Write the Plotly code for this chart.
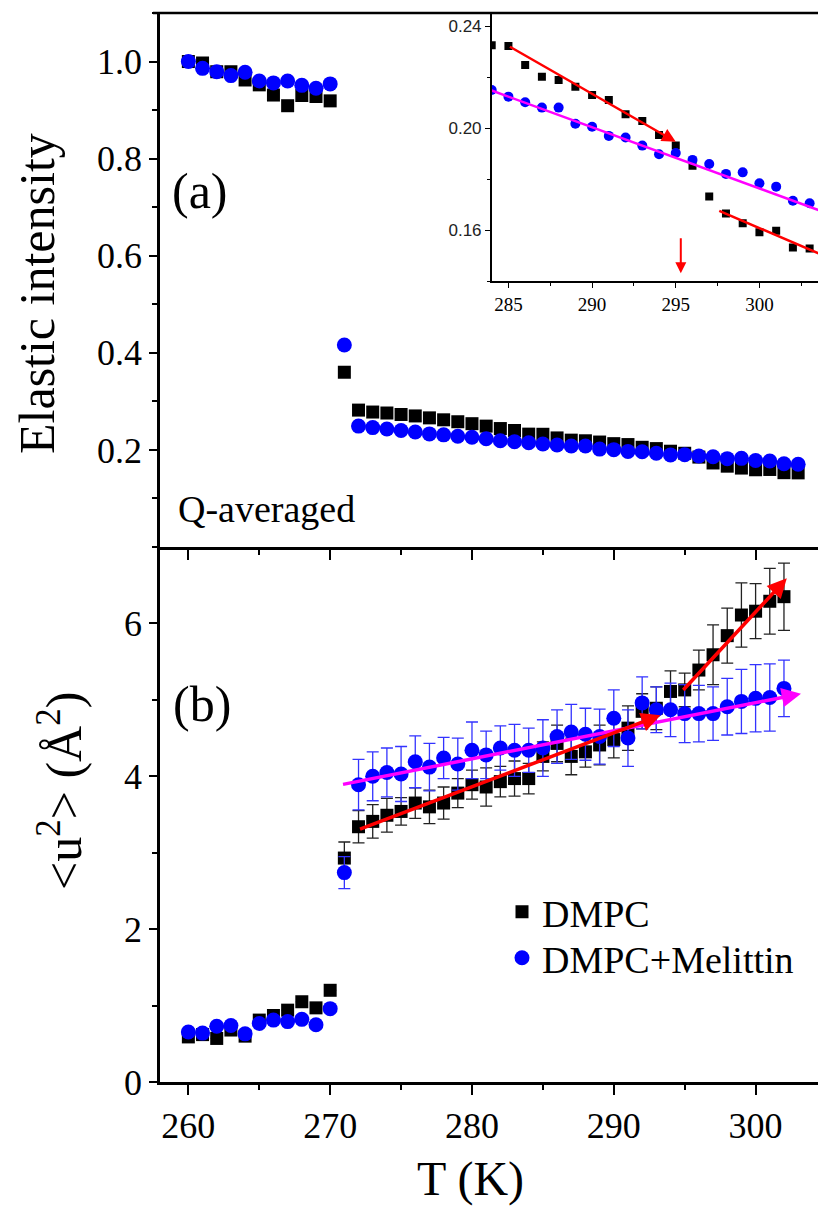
import plotly.graph_objects as go

# ---------------- data ----------------
temps_elastic = [260, 261, 262, 263, 264, 265, 266, 267, 268, 269, 270, 271,
                 272, 273, 274, 275, 276, 277, 278, 279, 280, 281, 282, 283,
                 284, 285, 286, 287, 288, 289, 290, 291, 292, 293, 294, 295,
                 296, 297, 298, 299, 300, 301, 302, 303]
elastic_dmpc = [1.000, 0.997, 0.979, 0.979, 0.962, 0.952, 0.931, 0.909, 0.930, 0.928, 0.919, 0.360,
                0.282, 0.278, 0.276, 0.273, 0.270, 0.266, 0.262, 0.258, 0.254, 0.249, 0.244, 0.240,
                0.2325, 0.2322, 0.2247, 0.2201, 0.2188, 0.2162, 0.2129, 0.2110, 0.2054, 0.2027, 0.1973, 0.1931,
                0.1852, 0.1731, 0.1665, 0.1626, 0.1591, 0.1597, 0.1531, 0.1527]
elastic_mel = [1.000, 0.986, 0.979, 0.971, 0.978, 0.960, 0.956, 0.960, 0.951, 0.945, 0.954, 0.416,
               0.249, 0.246, 0.243, 0.240, 0.237, 0.233, 0.231, 0.228, 0.226, 0.223, 0.219, 0.217,
               0.2149, 0.2123, 0.2101, 0.2080, 0.2080, 0.2017, 0.2005, 0.1969, 0.1963, 0.1931, 0.1897, 0.1902,
               0.1875, 0.1859, 0.1820, 0.1826, 0.1783, 0.1770, 0.1715, 0.1705]

temps_msd = [260, 261, 262, 263, 264, 265, 266, 267, 268, 269, 270, 271,
             272, 273, 274, 275, 276, 277, 278, 279, 280, 281, 282, 283,
             284, 285, 286, 287, 288, 289, 290, 291, 292, 293, 294, 295,
             296, 297, 298, 299, 300, 301, 302]
msd_dmpc = [0.59, 0.62, 0.57, 0.68, 0.60, 0.81, 0.87, 0.94, 1.05, 0.97, 1.20, 2.93,
            3.34, 3.41, 3.49, 3.54, 3.65, 3.60, 3.65, 3.78, 3.89, 3.86, 3.93, 3.97,
            3.97, 4.26, 4.43, 4.26, 4.32, 4.41, 4.48, 4.63, 4.85, 4.89, 5.11, 5.13,
            5.39, 5.59, 5.84, 6.11, 6.16, 6.29, 6.35]
msd_dmpc_err = [0, 0, 0, 0, 0, 0, 0, 0, 0, 0, 0, 0.21,
                0.21, 0.22, 0.22, 0.18, 0.20, 0.22, 0.21, 0.19, 0.19, 0.25, 0.20, 0.23,
                0.20, 0.19, 0.24, 0.24, 0.20, 0.26, 0.24, 0.29, 0.23, 0.28, 0.27, 0.22,
                0.26, 0.39, 0.36, 0.42, 0.36, 0.43, 0.44]
msd_mel = [0.655, 0.64, 0.73, 0.74, 0.63, 0.765, 0.81, 0.79, 0.82, 0.75, 0.96, 2.74,
           3.89, 4.00, 4.05, 4.03, 4.19, 4.12, 4.24, 4.16, 4.34, 4.28, 4.37, 4.34,
           4.34, 4.37, 4.52, 4.58, 4.55, 4.52, 4.76, 4.50, 4.96, 4.87, 4.87, 4.82,
           4.82, 4.82, 4.91, 4.98, 5.02, 5.03, 5.15]
msd_mel_err = [0, 0, 0, 0, 0, 0, 0, 0, 0, 0, 0, 0.21,
               0.33, 0.32, 0.32, 0.36, 0.34, 0.31, 0.27, 0.34, 0.37, 0.31, 0.29, 0.34,
               0.29, 0.37, 0.35, 0.36, 0.34, 0.36, 0.37, 0.37, 0.34, 0.30, 0.35, 0.38,
               0.37, 0.35, 0.37, 0.42, 0.44, 0.44, 0.37]

# guide lines / arrows (tail -> head)
msd_fit_dmpc_low_T = [272.0, 293.3]
msd_fit_dmpc_low_u2 = [3.30, 4.80]
msd_fit_dmpc_high_T = [294.8, 302.2]
msd_fit_dmpc_high_u2 = [5.11, 6.59]
msd_fit_mel_T = [270.8, 303.2]
msd_fit_mel_u2 = [3.89, 5.08]

inset_fit_dmpc_low_T = [285.0, 295.0]
inset_fit_dmpc_low_I = [0.2322, 0.1946]
inset_fit_dmpc_high_T = [297.6, 304.0]
inset_fit_dmpc_high_I = [0.1675, 0.1495]
inset_fit_mel_T = [284.0, 304.0]
inset_fit_mel_I = [0.2147, 0.1667]
inset_transition_T = [295.3, 295.3]
inset_transition_I = [0.1574, 0.1430]

x_ticks_main = [260, 270, 280, 290, 300]
y_ticks_top = [0.2, 0.4, 0.6, 0.8, 1.0]
y_ticks_bottom = [0, 2, 4, 6]
inset_x_ticks = [285, 290, 295, 300]
inset_y_ticks = [0.16, 0.20, 0.24]

# ---------------- style ----------------
SERIF = "Liberation Serif"
SANS = "Liberation Sans"
BLACK = "#000000"
BLUE = "#0000FF"
RED = "#FF0000"
MAGENTA = "#FF00FF"

fig = go.Figure()

# top panel
fig.add_trace(go.Scatter(x=temps_elastic, y=elastic_dmpc, mode="markers", name="DMPC",
                         marker=dict(symbol="square", size=13, color=BLACK),
                         xaxis="x", yaxis="y", showlegend=False))
fig.add_trace(go.Scatter(x=temps_elastic, y=elastic_mel, mode="markers", name="DMPC+Melittin",
                         marker=dict(symbol="circle", size=15, color=BLUE),
                         xaxis="x", yaxis="y", showlegend=False))

# bottom panel
fig.add_trace(go.Scatter(x=temps_msd, y=msd_dmpc, mode="markers", name="DMPC",
                         marker=dict(symbol="square", size=13, color=BLACK),
                         error_y=dict(type="data", array=msd_dmpc_err, color="#222222",
                                      thickness=1.3, width=6),
                         xaxis="x2", yaxis="y2", showlegend=True, legend="legend"))
fig.add_trace(go.Scatter(x=temps_msd, y=msd_mel, mode="markers", name="DMPC+Melittin",
                         marker=dict(symbol="circle", size=15, color=BLUE),
                         error_y=dict(type="data", array=msd_mel_err, color="#3333FF",
                                      thickness=1.3, width=6),
                         xaxis="x2", yaxis="y2", showlegend=True, legend="legend2"))

# inset
fig.add_trace(go.Scatter(x=temps_elastic, y=elastic_dmpc, mode="markers", name="DMPC",
                         marker=dict(symbol="square", size=8, color=BLACK),
                         xaxis="x3", yaxis="y3", showlegend=False))
fig.add_trace(go.Scatter(x=temps_elastic, y=elastic_mel, mode="markers", name="DMPC+Melittin",
                         marker=dict(symbol="circle", size=10, color=BLUE),
                         xaxis="x3", yaxis="y3", showlegend=False))
fig.add_trace(go.Scatter(x=inset_fit_mel_T, y=inset_fit_mel_I, mode="lines",
                         line=dict(color=MAGENTA, width=2.5), xaxis="x3", yaxis="y3",
                         showlegend=False, hoverinfo="skip"))
fig.add_trace(go.Scatter(x=inset_fit_dmpc_high_T, y=inset_fit_dmpc_high_I, mode="lines",
                         line=dict(color=RED, width=2.5), xaxis="x3", yaxis="y3",
                         showlegend=False, hoverinfo="skip"))

annotations = []

def arrow(xs, ys, xref, yref, color, width, size):
    return dict(x=xs[1], y=ys[1], ax=xs[0], ay=ys[0], xref=xref, yref=yref,
                axref=xref, ayref=yref, text="", showarrow=True, arrowhead=2,
                arrowsize=size, arrowwidth=width, arrowcolor=color)

annotations.append(arrow(msd_fit_mel_T, msd_fit_mel_u2, "x2", "y2", MAGENTA, 3.5, 1.1))
annotations.append(arrow(msd_fit_dmpc_low_T, msd_fit_dmpc_low_u2, "x2", "y2", RED, 3.5, 1.1))
annotations.append(arrow(msd_fit_dmpc_high_T, msd_fit_dmpc_high_u2, "x2", "y2", RED, 3.5, 1.1))
annotations.append(arrow(inset_fit_dmpc_low_T, inset_fit_dmpc_low_I, "x3", "y3", RED, 2.5, 1.1))
annotations.append(arrow(inset_transition_T, inset_transition_I, "x3", "y3", RED, 2, 1.1))


def ptx(px):
    return (px - 160) / 658.0


def pty(py):
    return (1082 - py) / 1069.0

annotations += [
    dict(text="(a)", x=ptx(200), y=pty(191), xref="paper", yref="paper",
         showarrow=False, xanchor="center", yanchor="middle",
         font=dict(family=SERIF, size=50, color=BLACK)),
    dict(text="(b)", x=ptx(202), y=pty(704), xref="paper", yref="paper",
         showarrow=False, xanchor="center", yanchor="middle",
         font=dict(family=SERIF, size=50, color=BLACK)),
    dict(text="Q-averaged", x=ptx(176), y=pty(509), xref="paper", yref="paper",
         showarrow=False, xanchor="left", yanchor="middle",
         font=dict(family=SERIF, size=38, color=BLACK)),
    dict(text="Elastic intensity", x=ptx(37), y=pty(293), xref="paper", yref="paper",
         showarrow=False, xanchor="center", yanchor="middle", textangle=-90,
         font=dict(family=SERIF, size=50, color=BLACK)),
    dict(text="&lt;u<sup>2</sup>&gt; (Å<sup>2</sup>)", x=ptx(60), y=pty(791),
         xref="paper", yref="paper",
         showarrow=False, xanchor="center", yanchor="middle", textangle=-90,
         font=dict(family=SERIF, size=50, color=BLACK)),
    dict(text="T (K)", x=ptx(470), y=pty(1179), xref="paper", yref="paper",
         showarrow=False, xanchor="center", yanchor="middle",
         font=dict(family=SERIF, size=48, color=BLACK)),
]

shapes = [dict(type="line", xref="paper", yref="paper", x0=ptx(153), x1=1.0, y0=1, y1=1,
               line=dict(color=BLACK, width=2.5))]

Y_SPLIT = (1082 - 547) / 1069.0
X_RANGE = [258.0, 304.4]

axis_common = dict(showline=True, linecolor=BLACK, linewidth=2.5, ticks="outside",
                   tickcolor=BLACK, tickwidth=2, showgrid=False, zeroline=False,
                   tickfont=dict(family=SERIF, size=36, color=BLACK))

legend_style = dict(xanchor="left", yanchor="middle",
                    font=dict(family=SERIF, size=38, color=BLACK),
                    bgcolor="rgba(0,0,0,0)", borderwidth=0)

fig.update_layout(
    width=818, height=1207,
    margin=dict(l=160, r=0, t=13, b=125),
    paper_bgcolor="white", plot_bgcolor="white",
    showlegend=True,
    legend=dict(legend_style, x=ptx(502), y=pty(912)),
    legend2=dict(legend_style, x=ptx(502), y=pty(958)),
    xaxis=dict(axis_common, domain=[0, 1], anchor="y", range=X_RANGE,
               tickvals=x_ticks_main, showticklabels=False, ticklen=10,
               minor=dict(dtick=5, tick0=255, ticks="outside", ticklen=5,
                          tickwidth=2, tickcolor=BLACK)),
    yaxis=dict(axis_common, domain=[Y_SPLIT, 1], anchor="x", range=[0.0, 1.1],
               tickvals=y_ticks_top, ticktext=["0.2", "0.4", "0.6", "0.8", "1.0"],
               ticklen=8,
               minor=dict(dtick=0.1, tick0=0, ticks="outside", ticklen=5,
                          tickwidth=2, tickcolor=BLACK)),
    xaxis2=dict(axis_common, domain=[0, 1], anchor="y2", range=X_RANGE,
                tickvals=x_ticks_main, ticklen=10,
                minor=dict(dtick=5, tick0=255, ticks="outside", ticklen=5,
                           tickwidth=2, tickcolor=BLACK)),
    yaxis2=dict(axis_common, domain=[0, Y_SPLIT], anchor="x2", range=[0, 7.0],
                tickvals=y_ticks_bottom, ticklen=8,
                minor=dict(dtick=1, tick0=0, ticks="outside", ticklen=5,
                           tickwidth=2, tickcolor=BLACK)),
    xaxis3=dict(domain=[ptx(491.7), 1], anchor="y3", range=[284.0, 303.5],
                showline=True, linecolor=BLACK, linewidth=1.5, ticks="outside",
                ticklen=5, tickwidth=1.2, tickcolor=BLACK, tickvals=inset_x_ticks,
                showgrid=False, zeroline=False,
                tickfont=dict(family=SERIF, size=19, color=BLACK),
                minor=dict(dtick=2.5, tick0=282.5, ticks="outside", ticklen=3,
                           tickwidth=1.2, tickcolor=BLACK)),
    yaxis3=dict(domain=[pty(281), 1], anchor="x3", range=[0.14, 0.2451],
                showline=True, linecolor=BLACK, linewidth=1.5, ticks="outside",
                ticklen=5, tickwidth=1.2, tickcolor=BLACK, tickvals=inset_y_ticks,
                tickformat=".2f", showgrid=False, zeroline=False,
                tickfont=dict(family=SANS, size=17, color="#222222"),
                minor=dict(dtick=0.02, tick0=0.14, ticks="outside", ticklen=3,
                           tickwidth=1.2, tickcolor=BLACK)),
    annotations=annotations,
    shapes=shapes,
)

fig.write_html("out.html")
